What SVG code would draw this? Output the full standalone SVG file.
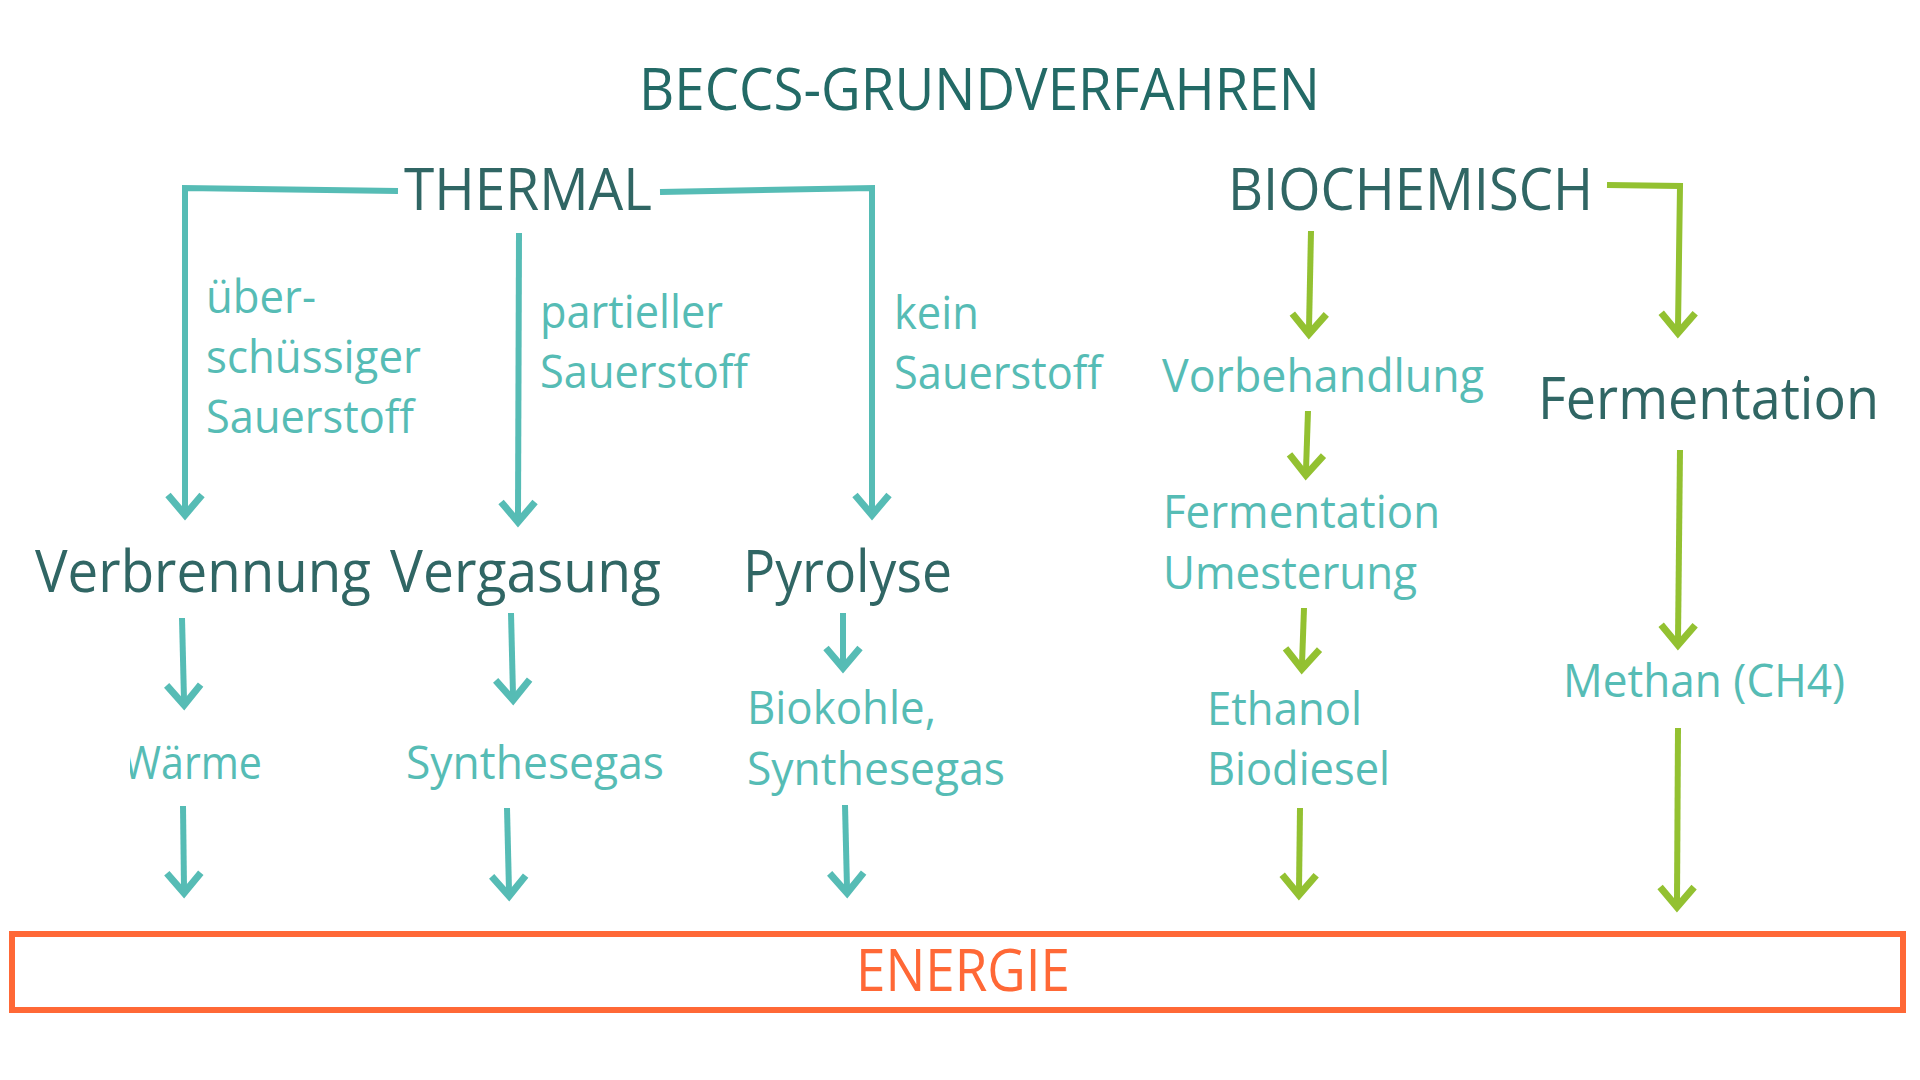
<svg xmlns="http://www.w3.org/2000/svg" width="1920" height="1080" viewBox="0 0 1920 1080">
<defs>
<style>
text{font-family:"Open Sans","Noto Sans","Liberation Sans",sans-serif;}
.title{font-size:59px;fill:#236a66;}
.head{font-size:58px;fill:#306664;}
.lbl{font-size:45px;fill:#56bcb5;}
.energy{font-size:58px;fill:#ff6836;}
.t{fill:none;stroke:#56bcb5;stroke-width:6;}
.g{fill:none;stroke:#93c131;stroke-width:6;}
.ta{marker-end:url(#mt);}
.ga{marker-end:url(#mg);}
</style>
<marker id="mt" markerUnits="userSpaceOnUse" viewBox="-40 -30 50 60" markerWidth="50" markerHeight="60" refX="-10" refY="0" orient="auto" overflow="visible">
<path d="M-25,-17 L-5,0 L-25,17" fill="none" stroke="#56bcb5" stroke-width="7"/>
</marker>
<marker id="mg" markerUnits="userSpaceOnUse" viewBox="-40 -30 50 60" markerWidth="50" markerHeight="60" refX="-10" refY="0" orient="auto" overflow="visible">
<path d="M-25,-17 L-5,0 L-25,17" fill="none" stroke="#93c131" stroke-width="7"/>
</marker>
<clipPath id="clipW"><rect x="130" y="700" width="200" height="120"/></clipPath>
</defs>
<rect width="1920" height="1080" fill="#ffffff"/>

<g id="connectors">
<polyline class="t ta" points="398,191 185,188 185,510"/>
<line class="t ta" x1="519" y1="233" x2="518" y2="517"/>
<polyline class="t ta" points="660,192 872,188 872,510"/>
<line class="t ta" x1="182" y1="618" x2="184" y2="700"/>
<line class="t ta" x1="511" y1="613" x2="513" y2="695"/>
<line class="t ta" x1="843" y1="613" x2="843" y2="663"/>
<line class="t ta" x1="183" y1="806" x2="184" y2="888"/>
<line class="t ta" x1="507" y1="808" x2="509" y2="891"/>
<line class="t ta" x1="845" y1="805" x2="847" y2="888"/>
<line class="g ga" x1="1311" y1="231" x2="1309" y2="329"/>
<polyline class="g ga" points="1607,185 1680,186 1678,328"/>
<line class="g ga" x1="1308" y1="411" x2="1306" y2="470"/>
<line class="g ga" x1="1680" y1="450" x2="1678" y2="640"/>
<line class="g ga" x1="1304" y1="608" x2="1302" y2="664"/>
<line class="g ga" x1="1678" y1="728" x2="1677" y2="902"/>
<line class="g ga" x1="1300" y1="808" x2="1299" y2="890"/>
</g>

<g id="title"><text class="title" x="639" y="110" textLength="681" lengthAdjust="spacingAndGlyphs">BECCS-GRUNDVERFAHREN</text></g>
<g id="thermal"><text class="head" x="404" y="210" textLength="248" lengthAdjust="spacingAndGlyphs">THERMAL</text></g>
<g id="biochemisch"><text class="head" x="1228" y="210" textLength="365" lengthAdjust="spacingAndGlyphs">BIOCHEMISCH</text></g>

<g id="label-ueberschuessig">
<text class="lbl" x="206" y="313" textLength="110" lengthAdjust="spacingAndGlyphs">über-</text>
<text class="lbl" x="206" y="373" textLength="215" lengthAdjust="spacingAndGlyphs">schüssiger</text>
<text class="lbl" x="206" y="433" textLength="208" lengthAdjust="spacingAndGlyphs">Sauerstoff</text>
</g>
<g id="label-partiell">
<text class="lbl" x="540" y="328" textLength="183" lengthAdjust="spacingAndGlyphs">partieller</text>
<text class="lbl" x="540" y="388" textLength="208" lengthAdjust="spacingAndGlyphs">Sauerstoff</text>
</g>
<g id="label-kein">
<text class="lbl" x="894" y="329" textLength="85" lengthAdjust="spacingAndGlyphs">kein</text>
<text class="lbl" x="894" y="389" textLength="208" lengthAdjust="spacingAndGlyphs">Sauerstoff</text>
</g>

<g id="verbrennung"><text class="head" x="35" y="592" textLength="336" lengthAdjust="spacingAndGlyphs">Verbrennung</text></g>
<g id="vergasung"><text class="head" x="390" y="592" textLength="271" lengthAdjust="spacingAndGlyphs">Vergasung</text></g>
<g id="pyrolyse"><text class="head" x="743" y="592" textLength="209" lengthAdjust="spacingAndGlyphs">Pyrolyse</text></g>

<g id="waerme"><text class="lbl" x="123" y="779" textLength="139" lengthAdjust="spacingAndGlyphs" clip-path="url(#clipW)">Wärme</text></g>
<g id="synthesegas1"><text class="lbl" x="406" y="779" textLength="258" lengthAdjust="spacingAndGlyphs">Synthesegas</text></g>
<g id="biokohle">
<text class="lbl" x="747" y="724" textLength="189" lengthAdjust="spacingAndGlyphs">Biokohle,</text>
<text class="lbl" x="747" y="785" textLength="258" lengthAdjust="spacingAndGlyphs">Synthesegas</text>
</g>

<g id="vorbehandlung"><text class="lbl" x="1162" y="392" textLength="322" lengthAdjust="spacingAndGlyphs">Vorbehandlung</text></g>
<g id="fermentation-umesterung">
<text class="lbl" x="1163" y="528" textLength="277" lengthAdjust="spacingAndGlyphs">Fermentation</text>
<text class="lbl" x="1163" y="589" textLength="254" lengthAdjust="spacingAndGlyphs">Umesterung</text>
</g>
<g id="ethanol-biodiesel">
<text class="lbl" x="1207" y="725" textLength="155" lengthAdjust="spacingAndGlyphs">Ethanol</text>
<text class="lbl" x="1207" y="785" textLength="183" lengthAdjust="spacingAndGlyphs">Biodiesel</text>
</g>
<g id="fermentation"><text class="head" x="1538" y="419" textLength="341" lengthAdjust="spacingAndGlyphs">Fermentation</text></g>
<g id="methan"><text class="lbl" x="1563" y="697" textLength="282" lengthAdjust="spacingAndGlyphs">Methan (CH4)</text></g>

<g id="energie">
<rect x="12" y="934" width="1891" height="76" fill="none" stroke="#ff6836" stroke-width="6"/>
<text class="energy" x="856" y="991" textLength="214" lengthAdjust="spacingAndGlyphs">ENERGIE</text>
</g>
</svg>
